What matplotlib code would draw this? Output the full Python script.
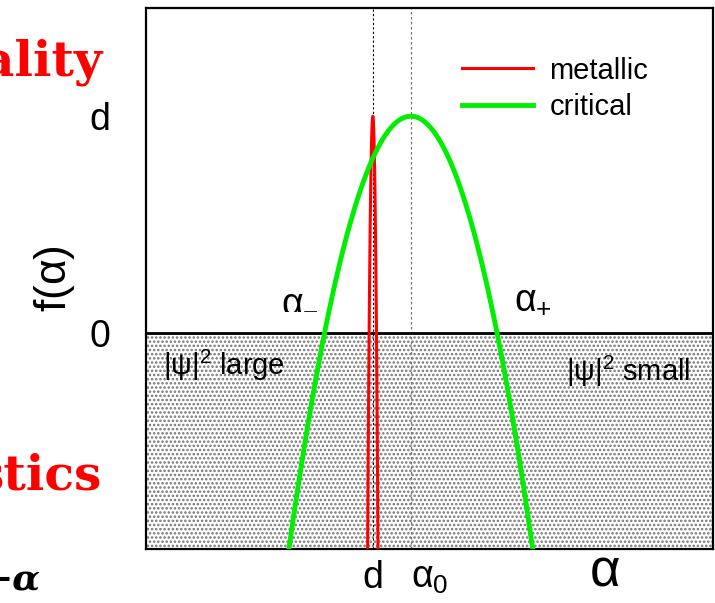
import numpy as np
import matplotlib
matplotlib.use("Agg")
import matplotlib.pyplot as plt

plt.rcParams['font.family'] = ['Liberation Sans', 'DejaVu Sans']
plt.rcParams['mathtext.fontset'] = 'custom'
plt.rcParams['mathtext.rm'] = 'Liberation Sans'
plt.rcParams['mathtext.it'] = 'Liberation Sans'
plt.rcParams['mathtext.bf'] = 'Liberation Sans:bold'
plt.rcParams['hatch.linewidth'] = 1.2

# positions on the alpha axis (axis runs 0..1)
alpha_d = 0.400
alpha_0 = 0.467
half_crit = 0.152      # half width of critical curve at f=0
half_met = 0.0065      # half width of metallic curve at f=0
f_top = 1.0            # f = d at the maximum

series_names = ["metallic", "critical"]
series_colors = ["red", "#00ee00"]
ytick_vals = [0, 1]
ytick_labels = ["0", "d"]
xtick_vals = [alpha_d, alpha_0]
xtick_labels = ["d", r"$\alpha_0$"]

fig = plt.figure(figsize=(7.15, 6.03), dpi=100)
ax = fig.add_axes([146/715, 54/603, 567/715, 541/603])
ax.set_xlim(0, 1)
ax.set_ylim(-1, 1.5)

# shaded region f<0
ax.axhspan(-1, 0, facecolor='white', edgecolor='0.45', hatch='....', linewidth=0, zorder=0)
ax.axhline(0, color='black', lw=2, zorder=3)

ax.axvline(alpha_d, color='black', ls=(0, (2, 2)), lw=0.8, zorder=1)
ax.axvline(alpha_0, color='0.45', ls=(0, (2, 2)), lw=0.9, zorder=1)

xa = np.linspace(alpha_0 - half_crit*1.5, alpha_0 + half_crit*1.5, 400)
fc = f_top * (1 - ((xa - alpha_0) / half_crit)**2)
xm = np.linspace(alpha_d - half_met*1.5, alpha_d + half_met*1.5, 400)
fm = f_top * (1 - ((xm - alpha_d) / half_met)**2)

ax.plot(xm, fm, color=series_colors[0], lw=2.2, label=series_names[0], zorder=4)
ax.plot(xa, fc, color=series_colors[1], lw=3.5, label=series_names[1], zorder=5)

ax.set_yticks(ytick_vals)
ax.set_yticklabels(ytick_labels, fontsize=27)
ax.set_xticks(xtick_vals)
ax.set_xticklabels(xtick_labels, fontsize=27)
ax.tick_params(length=0, pad=26, axis='y')
ax.tick_params(length=0, pad=8, axis='x')
xl = ax.get_xticklabels()
xl[1].set_horizontalalignment('left')
xl[1].set_x(alpha_0)
for s in ax.spines.values():
    s.set_linewidth(1.6)

ax.set_ylabel(r"f($\alpha$)", fontsize=32, labelpad=9)
fig.text(605/715, 1 - 572/603, r"$\alpha$", fontsize=38, ha='center', va='center')

ax.text(alpha_0 - half_crit - 0.01, 0.07, r"$\alpha_{-}$", fontsize=27, ha='right', va='bottom')
ax.text(alpha_0 + half_crit + 0.03, 0.07, r"$\alpha_{+}$", fontsize=27, ha='left', va='bottom')
ax.text(0.03, -0.15, r"$|\psi|^2$ large", fontsize=21, va='center')
ax.text(0.74, -0.18, r"$|\psi|^2$ small", fontsize=21, va='center')

leg = ax.legend(loc='upper left', bbox_to_anchor=(0.557, 0.91), frameon=False,
                borderaxespad=0, borderpad=0,
                fontsize=21, handlelength=2.45, handletextpad=0.55, labelspacing=0.3)

# cropped slide text to the left of the plot
fig.text(102/715, 1 - 75/603, "ality", color='red', fontsize=35, fontweight='bold',
         family='DejaVu Serif', ha='right', va='baseline')
fig.text(102/715, 1 - 490/603, "stics", color='red', fontsize=35, fontweight='bold',
         family='DejaVu Serif', ha='right', va='baseline')
fig.text(40/715, 1 - 590/603, "−α", color='black', fontsize=26, fontweight='bold',
         fontstyle='italic', family='DejaVu Serif', ha='right', va='baseline')

fig.savefig("out.png", dpi=100)
